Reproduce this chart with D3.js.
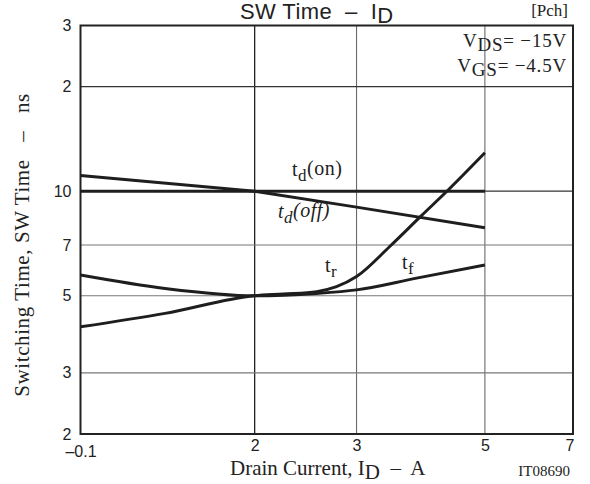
<!DOCTYPE html>
<html><head><meta charset="utf-8">
<script src="https://cdn.jsdelivr.net/npm/d3@7"></script>
<style>
html,body{margin:0;padding:0;background:#fff;}
svg{display:block;}
text{white-space:pre;}
.serif{font-family:"Liberation Serif","Times New Roman",serif;fill:#222;}
.sans{font-family:"Liberation Sans",Arial,sans-serif;fill:#222;}
</style></head>
<body>
<svg id="chart" width="590" height="484"></svg>
<script>
// ---- data ----
const xTickValues = [1, 2, 3, 5, 7];
const xTickLabels = ["\u20130.1", "2", "3", "5", "7"];
const yTickValues = [2, 3, 5, 7, 10, 20, 30];
const yTickLabels = ["2", "3", "5", "7", "10", "2", "3"];
const xGrid = [2, 3, 5];
const yGrid = [3, 5, 7, 10, 20];

const tdOnI = [1, 5];
const tdOnT = [10, 10];
const tdOffI = [1, 2, 3, 5];
const tdOffT = [11.1, 10, 9.0, 7.85];
const trI = [1, 1.4, 2, 2.24, 2.56, 2.77, 3.0, 3.42, 3.88, 4.32, 5];
const trT = [4.07, 4.45, 5.0, 5.06, 5.14, 5.31, 5.68, 6.92, 8.49, 10.08, 12.9];
const tfI = [1, 1.4, 2, 2.56, 3, 3.81, 5];
const tfT = [5.74, 5.25, 5.0, 5.08, 5.2, 5.62, 6.13];

// ---- layout ----
const svg = d3.select("#chart");
const L = 80.5, R = 573, T = 25.5, B = 434;
const x = d3.scaleLog().domain([1, 7.1]).range([L, R]);
const y = d3.scaleLog().domain([2, 30]).range([B, T]);

// grid
svg.append("g").selectAll("line").data(xGrid).join("line")
  .attr("x1", d => x(d)).attr("x2", d => x(d)).attr("y1", T).attr("y2", B)
  .attr("stroke", d => d === 2 ? "#222" : "#6a6a6a").attr("stroke-width", d => d === 2 ? 1.3 : 1.1);
svg.append("g").selectAll("line").data(yGrid).join("line")
  .attr("x1", L).attr("x2", R).attr("y1", d => y(d)).attr("y2", d => y(d))
  .attr("stroke", d => (d === 10 || d === 20) ? "#333" : "#777").attr("stroke-width", d => (d === 10 || d === 20) ? 1.3 : 1.1);

// frame
svg.append("rect").attr("x", L).attr("y", T).attr("width", R - L).attr("height", B - T)
  .attr("fill", "none").attr("stroke", "#222").attr("stroke-width", 2);

// axes
const xAxis = d3.axisBottom(x).tickValues(xTickValues).tickSize(0).tickPadding(6)
  .tickFormat((d, i) => xTickLabels[i]);
const gx = svg.append("g").attr("transform", `translate(0,${B})`).call(xAxis);
gx.select(".domain").remove();
gx.selectAll("text").attr("font-size", 16).attr("fill", "#222")
  .style("font-family", "'Liberation Sans',Arial,sans-serif")
  .attr("y", (d, i) => i === 0 ? 12 : 6);

const yAxis = d3.axisLeft(y).tickValues(yTickValues).tickSize(0).tickPadding(9)
  .tickFormat((d, i) => yTickLabels[i]);
const gy = svg.append("g").attr("transform", `translate(${L},0)`).call(yAxis);
gy.select(".domain").remove();
gy.selectAll("text").attr("font-size", 16).attr("fill", "#222")
  .style("font-family", "'Liberation Sans',Arial,sans-serif");

// curves
const lineLin = d3.line().x(d => x(d[0])).y(d => y(d[1]));
const lineSmooth = d3.line().x(d => x(d[0])).y(d => y(d[1])).curve(d3.curveMonotoneX);
const zip = (a, b) => a.map((v, i) => [v, b[i]]);
const series = [
  [zip(tdOnI, tdOnT), lineLin],
  [zip(tdOffI, tdOffT), lineLin],
  [zip(trI, trT), lineSmooth],
  [zip(tfI, tfT), lineSmooth]
];
series.forEach(([pts, gen]) => {
  svg.append("path").attr("d", gen(pts)).attr("fill", "none")
    .attr("stroke", "#1e1e1e").attr("stroke-width", 3).attr("stroke-linejoin", "round");
});

// curve labels
function label(xp, yp, main, sub, tail, italic) {
  const t = svg.append("text").attr("class", "serif").attr("x", xp).attr("y", yp)
    .attr("font-size", 20).attr("letter-spacing", 0.5);
  const st = italic ? "italic" : "normal";
  t.append("tspan").text(main).style("font-style", st);
  t.append("tspan").text(sub).attr("font-size", 17).attr("dy", 5).style("font-style", st);
  if (tail) t.append("tspan").text(tail).attr("dy", -6).style("font-style", st);
}
label(292, 176, "t", "d", "(on)", false);
label(278, 218, "t", "d", "(off)", true);
label(325, 272, "t", "r", "", false);
label(402, 269, "t", "f", "", false);

// conditions
const cond = [["V", "DS", "= \u221215V", 47], ["V", "GS", "= \u22124.5V", 72]];
cond.forEach(c => {
  const t = svg.append("text").attr("class", "serif").attr("x", 567).attr("y", c[3])
    .attr("text-anchor", "end").attr("font-size", 19).attr("letter-spacing", 0.8);
  t.append("tspan").text(c[0]);
  t.append("tspan").text(c[1]).attr("dy", 4);
  t.append("tspan").text(c[2]).attr("dy", -4);
});

// title
const title = svg.append("text").attr("class", "sans").attr("x", 240).attr("y", 19).attr("font-size", 22)
  .attr("letter-spacing", 0.4);
title.append("tspan").text("SW Time  \u2013  I");
title.append("tspan").text("D").attr("dy", 4);
svg.append("text").attr("class", "serif").attr("x", 568).attr("y", 16).attr("text-anchor", "end")
  .attr("font-size", 17).text("[Pch]");

// axis titles
const xt = svg.append("text").attr("class", "serif").attr("x", 230).attr("y", 475).attr("font-size", 21);
xt.append("tspan").text("Drain Current, I");
xt.append("tspan").text("D").attr("dy", 4);
xt.append("tspan").text("  \u2013  A").attr("dy", -4);

svg.append("text").attr("class", "serif").attr("transform", "translate(29,245) rotate(-90)")
  .attr("text-anchor", "middle").attr("font-size", 21).attr("letter-spacing", 0.6)
  .text("Switching Time, SW Time   \u2013   ns");

svg.append("text").attr("class", "serif").attr("x", 570).attr("y", 476).attr("text-anchor", "end")
  .attr("font-size", 15).text("IT08690");
</script>
</body></html>
